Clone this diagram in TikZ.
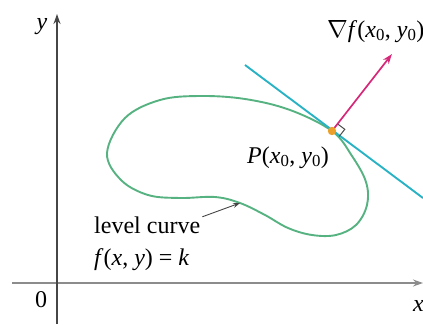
\documentclass[tikz,border=0pt]{standalone}
\usepackage{fontspec}
\setmainfont{Liberation Serif}
\usetikzlibrary{arrows.meta,calc}
\definecolor{curvegreen}{RGB}{86,178,128}
\definecolor{tangcyan}{RGB}{40,178,196}
\definecolor{gradmag}{RGB}{214,40,120}
\definecolor{dotorange}{RGB}{236,160,44}
\definecolor{axisgray}{RGB}{70,70,70}
\newcommand\mi[1]{\textit{#1}}
\begin{document}
\begin{tikzpicture}[x=1pt,y=-1pt,
  lbl/.style={inner sep=0pt,font=\fontsize{24}{28}\selectfont},
  axisline/.style={line width=1.6pt,-{Stealth[length=10pt,width=7pt]}}]
\useasboundingbox (0,0) rectangle (423,324);
% axes
\coordinate (xs) at (12,283);
\coordinate (xe) at (423,283);
\coordinate (ys) at (57,324);
\coordinate (ye) at (57,14);
\draw[axisline,color=black!45] (xs) -- (xe);
\draw[axisline,color=axisgray] (ys) -- (ye);
\node[lbl,anchor=base] (ylab) at (42,29) {\mi{y}};
\node[lbl,anchor=base] (zero) at (41,307) {0};
\node[lbl,anchor=base west] (xlab) at (413,311) {\mi{x}};
% level curve
\coordinate (P) at (332,131);
\draw[curvegreen,line width=1.9pt] plot[smooth cycle,tension=0.6] coordinates {
 (107,153) (125,118) (160,100) (200,96) (245,99) (290,110) (332,131)
 (352,156) (366,182) (367,205) (356,225) (336,235) (312,235) (288,228)
 (265,215) (240,203) (215,197) (180,198) (148,195) (121,180)};
% tangent line
\coordinate (t1) at (245,65);
\coordinate (t2) at (423,198);
\draw[tangcyan,line width=1.9pt] (t1) -- (t2);
% right angle mark
\draw[black!70,line width=1pt] ($(P)+(7.2,5.4)$) -- ++(5.6,-7.1) -- ++(-7.2,-5.4);
% gradient
\coordinate (G) at (392,54);
\draw[gradmag,line width=1.7pt,-{Stealth[length=10pt,width=7pt]}] (P) -- (G);
\fill[dotorange] (P) circle (4.2pt);
% labels
\node[lbl,anchor=base west] (glab) at (327,37) {$\nabla$\mi{f}(\mi{x}\textsubscript{0}, \mi{y}\textsubscript{0})};
\node[lbl,anchor=base west] (plab) at (247,163) {\mi{P}(\mi{x}\textsubscript{0}, \mi{y}\textsubscript{0})};
\node[lbl,anchor=base west] (lc) at (94,233) {level curve};
\node[lbl,anchor=base west] (fk) at (94,265) {\mi{f}(\mi{x}, \mi{y}) = \mi{k}};
\coordinate (ct) at (240,203);
\draw[axisgray,line width=0.9pt,-{Stealth[length=7pt,width=5pt]}] (lc.east) ++(2,-8) -- (ct);
\end{tikzpicture}
\end{document}
